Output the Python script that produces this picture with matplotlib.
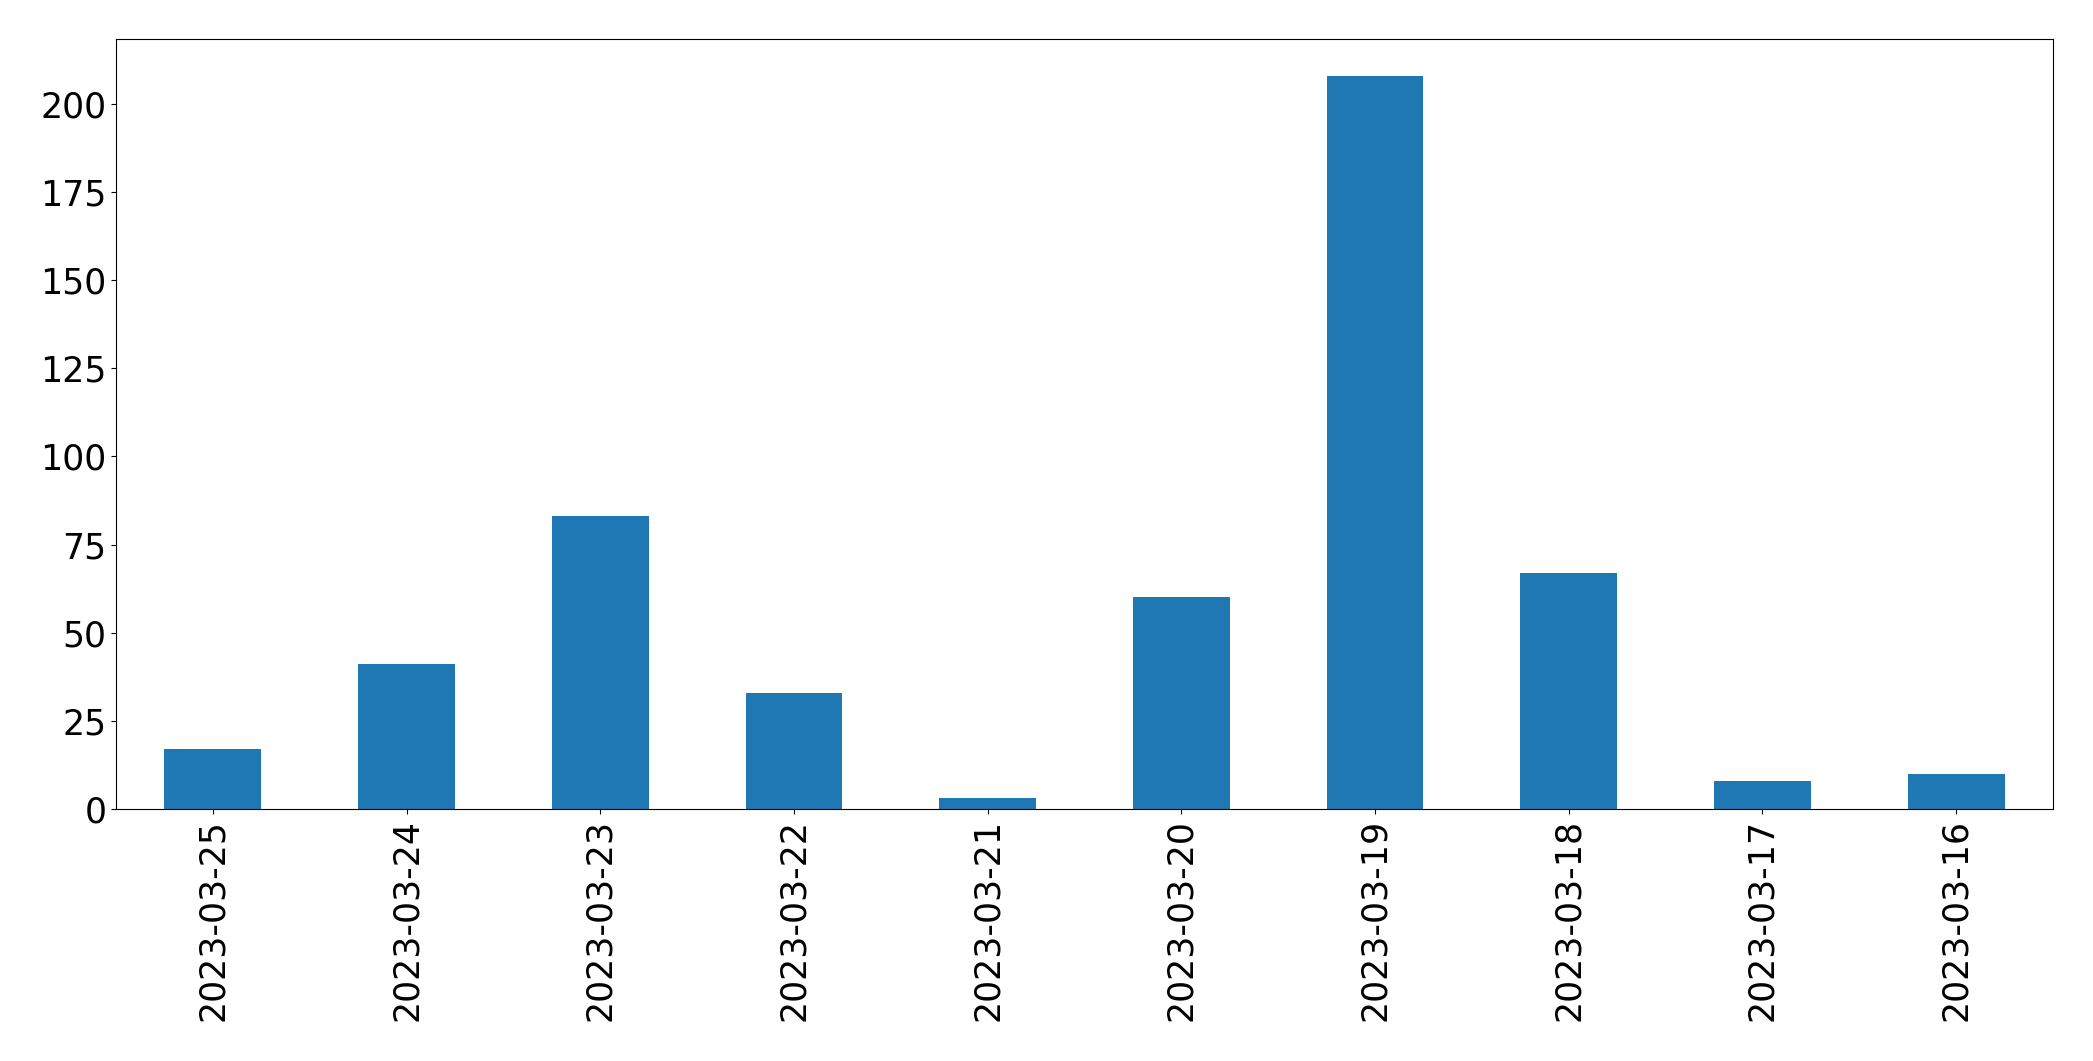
import matplotlib
matplotlib.use("Agg")
import numpy as np
import matplotlib.pyplot as plt

dates = ["2023-03-25", "2023-03-24", "2023-03-23", "2023-03-22", "2023-03-21",
         "2023-03-20", "2023-03-19", "2023-03-18", "2023-03-17", "2023-03-16"]
counts = [17, 41, 83, 33, 3, 60, 208, 67, 8, 10]

fig = plt.figure(figsize=(20.93, 10.61), dpi=100)
ax = fig.add_axes([116 / 2093, 1 - 809 / 1061, (2053 - 116) / 2093, (809 - 39) / 1061])

x = np.arange(len(dates))
ax.bar(x, counts, width=0.5, color="#1f77b4")
ax.set_xlim(-0.5, len(dates) - 0.5)
ax.set_xticks(x)
ax.set_xticklabels(dates, rotation=90)
ax.tick_params(labelsize=25)

fig.savefig("out.png", dpi=100)
